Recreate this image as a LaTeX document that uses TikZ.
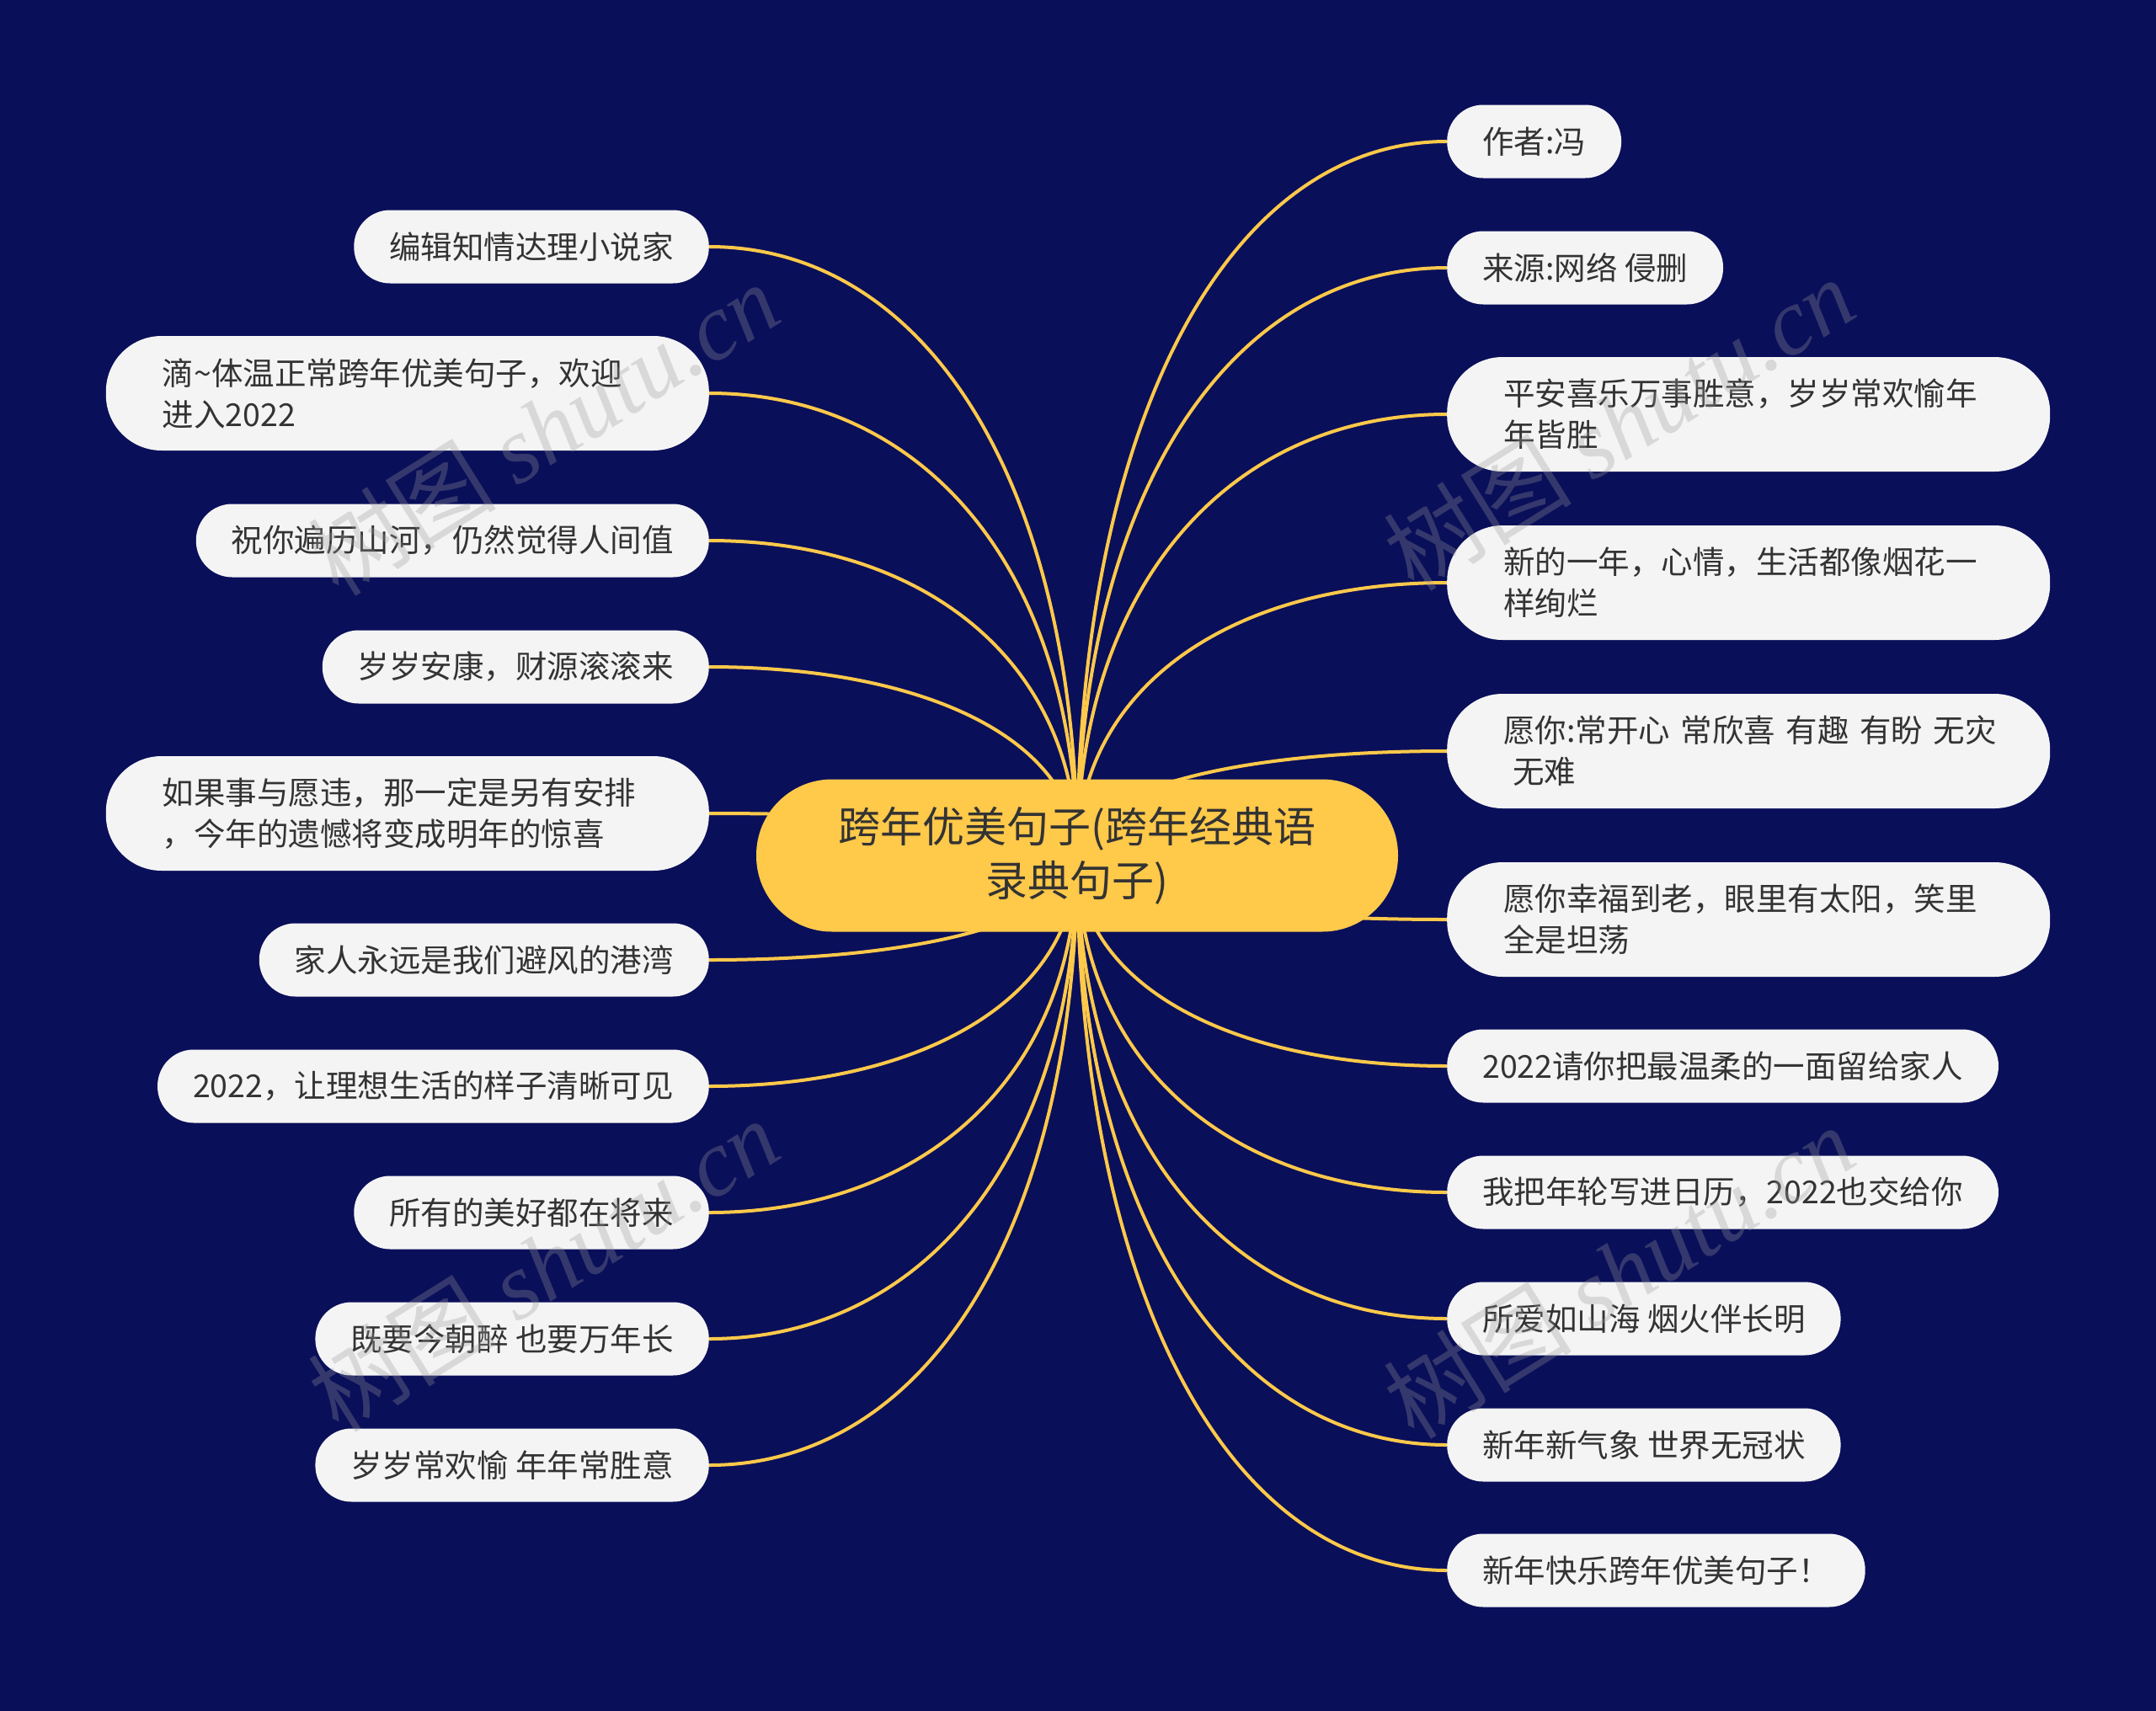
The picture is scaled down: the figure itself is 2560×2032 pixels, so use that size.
\documentclass[tikz,border=0pt]{standalone}
\usepackage{fontspec}
\setmainfont{Noto Sans CJK SC}
\newfontfamily\wmserif{Liberation Serif}
\usetikzlibrary{calc}
\definecolor{bgnavy}{HTML}{0A0F5A}
\definecolor{gold}{HTML}{FFC94A}
\definecolor{nodefill}{HTML}{F4F4F4}
\definecolor{txt}{HTML}{333333}
\definecolor{wmgray}{HTML}{9A9A9A}
\pgfdeclarelayer{bg}
\pgfdeclarelayer{lines}
\pgfsetlayers{bg,lines,main}
\newcommand\linkto[1]{\draw[conn] (root.center) .. controls ($(root.center)!0.6!(root.center|-#1)$) and ($(root.center|-#1)!0.4!(#1)$) .. (#1);}
\begin{document}
\begin{tikzpicture}[x=1pt,y=-1pt,
  conn/.style={draw=gold,line width=4pt},
  leaf/.style={fill=nodefill,text=txt,inner ysep=0pt,inner xsep=42pt,minimum height=87pt,rounded corners=43pt,font=\fontsize{37.5}{49}\selectfont},
  leaftwo/.style={leaf,inner xsep=67pt,minimum height=136pt,rounded corners=66pt,text width=582pt,align=left},
  rootnode/.style={fill=gold,text=txt,minimum width=762pt,minimum height=181pt,rounded corners=90pt,inner sep=0pt,align=center,font=\fontsize{50}{64}\selectfont},
  wm/.style={text=wmgray,opacity=0.3,rotate=32,font=\fontsize{112}{112}\selectfont}]
\useasboundingbox (0,0) rectangle (2560,2032);
\begin{pgfonlayer}{bg}
\fill[bgnavy] (0,0) rectangle (2560,2032);
\end{pgfonlayer}

% root
\node[rootnode] (root) at (1279,1016) {跨年优美句子(跨年经典语\\录典句子)};

% left children
\node[leaf,anchor=east] (L1) at (842,293) {编辑知情达理小说家};
\node[leaftwo,anchor=east] (L2) at (842,467) {滴\textasciitilde 体温正常跨年优美句子，欢迎\\进入2022};
\node[leaf,anchor=east] (L3) at (842,642) {祝你遍历山河，仍然觉得人间值};
\node[leaf,anchor=east] (L4) at (842,792) {岁岁安康，财源滚滚来};
\node[leaftwo,anchor=east] (L5) at (842,966) {如果事与愿违，那一定是另有安排\\，今年的遗憾将变成明年的惊喜};
\node[leaf,anchor=east] (L6) at (842,1140) {家人永远是我们避风的港湾};
\node[leaf,anchor=east] (L7) at (842,1290) {2022，让理想生活的样子清晰可见};
\node[leaf,anchor=east] (L8) at (842,1440) {所有的美好都在将来};
\node[leaf,anchor=east] (L9) at (842,1590) {既要今朝醉 也要万年长};
\node[leaf,anchor=east] (L10) at (842,1740) {岁岁常欢愉 年年常胜意};

% right children
\node[leaf,anchor=west] (R1) at (1718,168) {作者:冯};
\node[leaf,anchor=west] (R2) at (1718,318) {来源:网络 侵删};
\node[leaftwo,anchor=west] (R3) at (1718,492) {平安喜乐万事胜意，岁岁常欢愉年\\年皆胜};
\node[leaftwo,anchor=west] (R4) at (1718,692) {新的一年，心情，生活都像烟花一\\样绚烂};
\node[leaftwo,anchor=west] (R5) at (1718,892) {\mbox{愿你:常开心 常欣喜 有趣 有盼 无灾}\\\hspace*{11pt}无难};
\node[leaftwo,anchor=west] (R6) at (1718,1092) {愿你幸福到老，眼里有太阳，笑里\\全是坦荡};
\node[leaf,anchor=west] (R7) at (1718,1266) {2022请你把最温柔的一面留给家人};
\node[leaf,anchor=west] (R8) at (1718,1416) {我把年轮写进日历，2022也交给你};
\node[leaf,anchor=west] (R9) at (1718,1566) {所爱如山海 烟火伴长明};
\node[leaf,anchor=west] (R10) at (1718,1716) {新年新气象 世界无冠状};
\node[leaf,anchor=west] (R11) at (1718,1865) {新年快乐跨年优美句子！};

% connectors
\begin{pgfonlayer}{lines}
\foreach \n in {L1,L2,L3,L4,L5,L6,L7,L8,L9,L10}{\linkto{\n.east}}
\foreach \n in {R1,R2,R3,R4,R5,R6,R7,R8,R9,R10,R11}{\linkto{\n.west}}
\end{pgfonlayer}

% watermarks
\node[wm] (w1) at (645,509) {树图 {\wmserif\itshape shutu.cn}};
\node[wm] (w2) at (1922,503) {树图 {\wmserif\itshape shutu.cn}};
\node[wm] (w3) at (645,1502) {树图 {\wmserif\itshape shutu.cn}};
\node[wm] (w4) at (1922,1510) {树图 {\wmserif\itshape shutu.cn}};
\end{tikzpicture}
\end{document}
